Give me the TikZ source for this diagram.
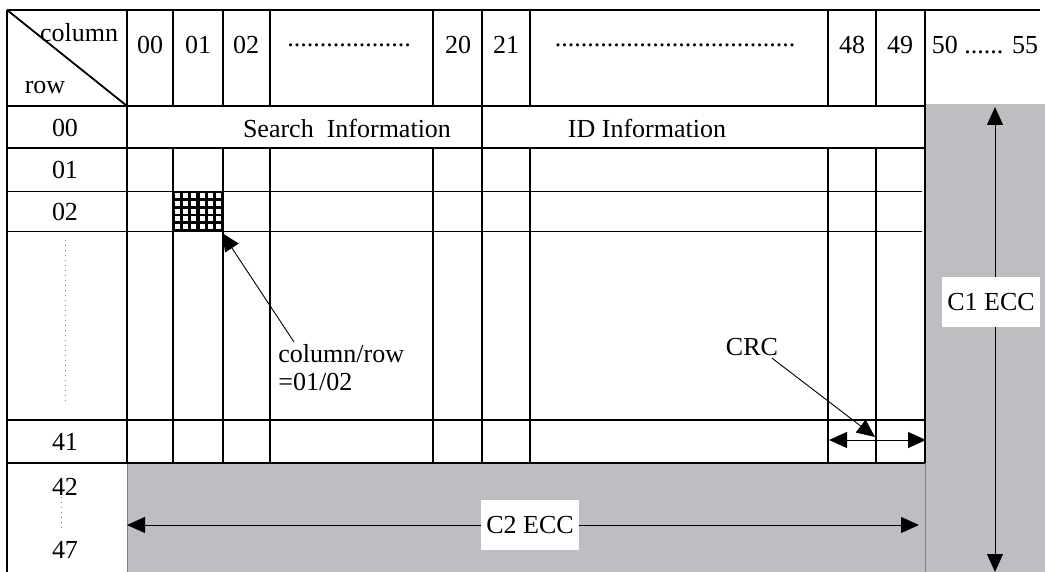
\documentclass[tikz,border=0pt]{standalone}
\usepackage{fontspec}
\setmainfont{Liberation Serif}
\usetikzlibrary{arrows.meta, positioning}
\definecolor{eccgray}{RGB}{189,190,194}
\tikzstyle{txt} = [font=\fontsize{13}{14}\selectfont, inner sep=1pt]
\tikzstyle{rule} = [line width=0.9pt]
\tikzstyle{hair} = [line width=0.5pt]
\tikzstyle{arrow} = [line width=0.45pt, -{Triangle[length=9pt,width=8pt]}]
\tikzstyle{dblarrow} = [line width=0.45pt, {Triangle[length=9pt,width=8pt]}-{Triangle[length=9pt,width=8pt]}]
\tikzstyle{eccbox} = [txt, fill=white, inner xsep=2.5pt, minimum height=25pt]

\begin{document}
\begin{tikzpicture}[x=0.5pt, y=-0.5pt]
    \useasboundingbox (0,0) rectangle (1045,572);
    % ECC areas
    \fill[eccgray] (925,104) rectangle (1045,572);
    \fill[eccgray] (127,463) rectangle (925,572);
    \draw[hair, gray] (127,463) -- (127,572);
    \draw[hair, gray] (925,463) -- (925,572);

    % Frame, rows and columns
    \draw[rule] (7,10) -- (1040,10);
    \draw[rule] (7,10) -- (7,572);
    \draw[rule] (7,10) -- (127,106);
    \foreach \y in {106,148,420,463}
        \draw[rule] (7,\y) -- (925,\y);
    \foreach \y in {192,232}
        \draw[hair] (7,\y) -- (922,\y);
    \draw[rule] (127,10) -- (127,463);
    \draw[rule] (482,10) -- (482,463);
    \draw[rule] (925,10) -- (925,463);
    \foreach \x in {173,223,270,433,530,828,876} {
        \draw[rule] (\x,10) -- (\x,106);
        \draw[rule] (\x,148) -- (\x,463);
    }

    % Marked cell
    \fill (173,191) rectangle (223,231);
    \foreach \i in {0,...,5}
        \foreach \j in {0,...,4}
            \fill[white] ({175+8.2*\i},{193+7.8*\j}) rectangle ++(5,5);

    % Header
    \node (colhd) [txt] at (79,33) {column};
    \node (rowhd) [txt] at (45,88) {row};
    \foreach \x/\t in {150/00,198/01,246/02,458/20,506/21,852/48,900/49}
        \node (h\t) [txt] at (\x,45) {\t};
    \node (dotsa) [txt] at (349,45) {...................};
    \node (dotsb) [txt] at (675,45) {.....................................};
    \node (h50) [txt] at (985,45) {50 ...... 55};

    % Row labels
    \foreach \y/\t in {128/00,170/01,212/02,442/41,487/42,550/47}
        \node (r\t) [txt] at (65,\y) {\t};
    \draw[hair, gray, dotted] (65,240) -- (65,405);
    \draw[hair, gray, dotted] (61,497) -- (61,530);

    % Row 00
    \node (search) [txt] at (347,128) {Search\ \ Information};
    \node (idinfo) [txt] at (647,128) {ID Information};

    % Callouts
    \coordinate (cellcorner) at (222,233);
    \node (cellnote) [txt, align=left, anchor=north west] at (276,342) {column/row\\=01/02};
    \draw[arrow] ([xshift=9pt]cellnote.north west) -- (cellcorner);

    \coordinate (crcpt) at (875,437);
    \coordinate (crcl) at (829,440);
    \coordinate (crcr) at (926,440);
    \node (crc) [txt] at (752,347) {CRC};
    \draw[dblarrow] (crcl) -- (crcr);
    \draw[arrow] ([xshift=10pt]crc.south) -- (crcpt);

    % ECC arrows
    \coordinate (c1top) at (995,107);
    \coordinate (c1bot) at (995,572);
    \node (c1ecc) [eccbox] at (991,302) {C1 ECC};
    \draw[arrow] (c1ecc.north -| c1top) -- (c1top);
    \draw[arrow] (c1ecc.south -| c1bot) -- (c1bot);

    \coordinate (c2left) at (127,525);
    \coordinate (c2right) at (919,525);
    \node (c2ecc) [eccbox] at (530,525) {C2 ECC};
    \draw[arrow] (c2ecc) -- (c2left);
    \draw[arrow] (c2ecc) -- (c2right);
\end{tikzpicture}
\end{document}
